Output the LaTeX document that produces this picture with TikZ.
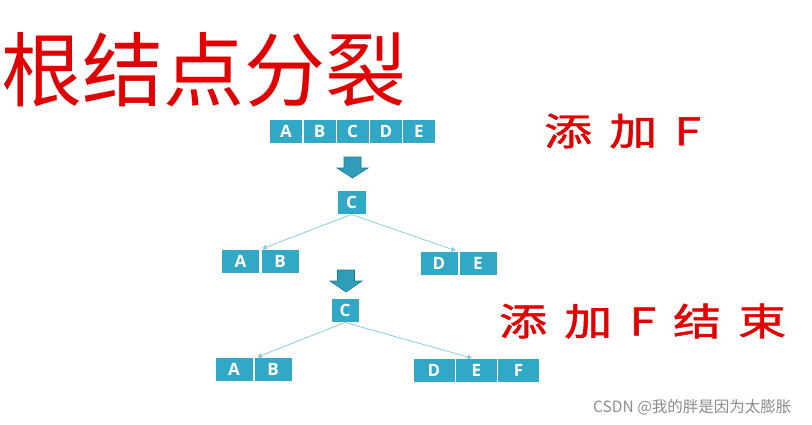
\documentclass[tikz,border=0pt]{standalone}
\usepackage{fontspec}
\usetikzlibrary{arrows.meta}
\newfontfamily\cjk{Noto Sans CJK SC}
\newfontfamily\cjkspaced[LetterSpace=36,FakeBold=1.2]{Noto Sans CJK SC}
\newfontfamily\cellfont{Open Sans}
\definecolor{cellc}{HTML}{31A8C5}
\definecolor{linec}{HTML}{7CC8DD}
\definecolor{arrowc}{HTML}{2F9DBA}
\definecolor{arrowd}{HTML}{1E7890}
\definecolor{titlered}{HTML}{E00000}
\tikzset{
  cell/.style={fill=cellc, draw=white, line width=0.9pt, minimum height=24pt, inner sep=0pt,
    text=white, font=\cellfont\bfseries\fontsize{17}{17}\selectfont},
  link/.style={draw=linec, line width=0.7pt, -{Triangle[length=4pt,width=5pt]}},
  bigarrow/.style={fill=arrowc, draw=arrowd, line width=0.6pt},
  redlabel/.style={text=titlered, inner sep=0pt, anchor=west, xscale=1.26, transform shape,
    font=\cjkspaced\fontsize{38}{38}\selectfont}
}
\begin{document}
\begin{tikzpicture}[x=1pt,y=-1pt]
\useasboundingbox (0,0) rectangle (812,424);
\fill[white] (0,0) rectangle (812,424);

% title
\node[text=titlered, anchor=west, inner sep=0pt, font=\cjk\fontsize{81}{81}\selectfont] (title) at (1,70) {根结点分裂};

% top array
\node[cell, minimum width=33pt] (t1) at (286,131.5) {A};
\node[cell, minimum width=33pt] (t2) at (319.5,131.5) {B};
\node[cell, minimum width=33pt] (t3) at (352.5,131.5) {C};
\node[cell, minimum width=33pt] (t4) at (386,131.5) {D};
\node[cell, minimum width=33pt] (t5) at (419,131.5) {E};

% arrow 1
\draw[bigarrow] (344,157) -- (361,157) -- (361,168) -- (368,168) -- (352.5,178) -- (337,168) -- (344,168) -- cycle;

% first split
\node[cell, minimum width=29pt] (c1) at (351.5,202) {C};
\node[cell, minimum width=38pt] (a1) at (240.5,261) {A};
\node[cell, minimum width=38pt] (b1) at (280,261) {B};
\node[cell, minimum width=38pt] (d1) at (439,263) {D};
\node[cell, minimum width=38pt] (e1) at (478,263) {E};
\draw[link] (c1.south) -- ([xshift=2pt]b1.north west);
\draw[link] (c1.south) -- ([xshift=-3pt]d1.north east);

% arrow 2
\draw[bigarrow] (337.5,270) -- (354.5,270) -- (354.5,281) -- (362,281) -- (346,292) -- (330,281) -- (337.5,281) -- cycle;

% second split
\node[cell, minimum width=28pt] (c2) at (345,310) {C};
\node[cell, minimum width=38pt] (a2) at (234,369.5) {A};
\node[cell, minimum width=38pt] (b2) at (273,369.5) {B};
\node[cell, minimum width=42pt] (d2) at (434,370.5) {D};
\node[cell, minimum width=42pt] (e2) at (476.5,370.5) {E};
\node[cell, minimum width=42pt] (f2) at (518.5,370.5) {F};
\draw[link] (c2.south) -- ([xshift=4pt]b2.north west);
\draw[link] (c2.south) -- ([xshift=-5pt]e2.north);

% red labels
\node[redlabel] (lab1) at (544,131) {添加F};
\node[redlabel] (lab2) at (499,321) {添加F结束};

% watermark
\node[anchor=west, inner sep=0pt, text=black!45, font=\cjk\fontsize{15.5}{15.5}\selectfont] (wm) at (593,407.5) {CSDN @我的胖是因为太膨胀};
\end{tikzpicture}
\end{document}
